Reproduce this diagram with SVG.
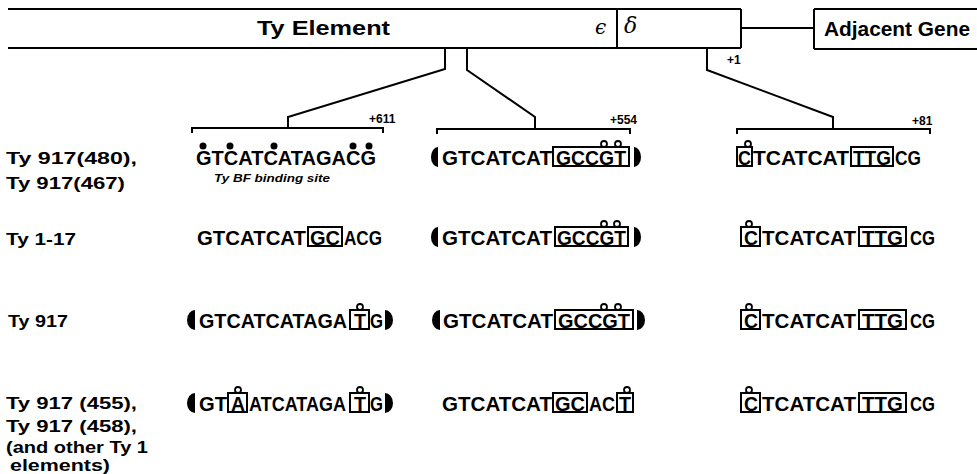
<svg xmlns="http://www.w3.org/2000/svg" width="977" height="474" viewBox="0 0 977 474">
<style>
.ln{stroke:#000;stroke-width:2;fill:none}
.bx{stroke:#000;stroke-width:2;fill:none}
.seq{font-family:"Liberation Sans",Arial,sans-serif;font-weight:bold;font-size:20px;fill:#000}
.lbl{font-family:"Liberation Sans",Arial,sans-serif;font-weight:bold;font-size:17px;fill:#000}
.lbs{font-family:"Liberation Sans",Arial,sans-serif;font-weight:bold;font-size:16px;fill:#000}
.big{font-family:"Liberation Sans",Arial,sans-serif;font-weight:bold;font-size:20px;fill:#000}
.pos{font-family:"Liberation Sans",Arial,sans-serif;font-weight:bold;font-size:12px;fill:#000}
.oc{fill:#fff;stroke:#000;stroke-width:1.8}
.dot{fill:#000}
.disk{fill:#000}
</style>
<rect width="977" height="474" fill="#fff"/>

<g id="ty-element">
  <line class="ln" x1="8" y1="9" x2="741" y2="9"/>
  <line class="ln" x1="8" y1="48" x2="741" y2="48"/>
  <line class="ln" x1="741" y1="9" x2="741" y2="48"/>
  <line class="ln" x1="617" y1="9" x2="617" y2="48"/>
  <text class="big" x="257" y="35" textLength="133" lengthAdjust="spacingAndGlyphs">Ty  Element</text>
  <text x="595" y="34" font-family="DejaVu Serif, serif" font-style="italic" font-size="20">ϵ</text>
  <text x="624" y="33" font-family="DejaVu Serif, serif" font-style="italic" font-size="22">δ</text>
</g>

<g id="adjacent-gene">
  <line class="ln" x1="814" y1="9" x2="977" y2="9"/>
  <line class="ln" x1="814" y1="49" x2="977" y2="49"/>
  <line class="ln" x1="814" y1="9" x2="814" y2="49"/>
  <text class="big" x="824" y="36" textLength="146" lengthAdjust="spacingAndGlyphs">Adjacent Gene</text>
</g>

<g id="connectors">
  <line class="ln" x1="741" y1="28" x2="814" y2="28"/>
  <polyline class="ln" points="445,48 445,69 288,117 288,128"/>
  <polyline class="ln" points="467,48 467,70 535,117 535,129"/>
  <polyline class="ln" points="707,48 707,70 833,117 833,129"/>
  <polyline class="ln" points="192,133 192,128 383,128 383,133"/>
  <polyline class="ln" points="437,134 437,129 630,129 630,134"/>
  <polyline class="ln" points="737,134 737,129 930,129 930,134"/>
  <text class="pos" x="727" y="64">+1</text>
  <text class="pos" x="369" y="123">+611</text>
  <text class="pos" x="610" y="124">+554</text>
  <text class="pos" x="912" y="125">+81</text>
</g>

<g id="labels">
  <text class="lbl" x="6" y="164" textLength="131" lengthAdjust="spacingAndGlyphs">Ty 917(480),</text>
  <text class="lbl" x="6" y="189" textLength="119" lengthAdjust="spacingAndGlyphs">Ty 917(467)</text>
  <text class="lbl" x="6" y="245" textLength="70" lengthAdjust="spacingAndGlyphs">Ty 1-17</text>
  <text class="lbl" x="8" y="327" textLength="60" lengthAdjust="spacingAndGlyphs">Ty 917</text>
  <text class="lbs" x="6" y="409" textLength="131" lengthAdjust="spacingAndGlyphs">Ty 917 (455),</text>
  <text class="lbs" x="6" y="432" textLength="131" lengthAdjust="spacingAndGlyphs">Ty 917 (458),</text>
  <text class="lbs" x="6" y="453" textLength="142" lengthAdjust="spacingAndGlyphs">(and other Ty 1</text>
  <text class="lbs" x="10" y="471" textLength="100" lengthAdjust="spacingAndGlyphs">elements)</text>
</g>

<!-- Row 1 -->
<g id="r1c1">
  <text class="seq" x="196" y="165" textLength="180" lengthAdjust="spacingAndGlyphs">GTCATCATAGACG</text>
  <circle class="dot" cx="203" cy="146" r="3.5"/>
  <circle class="dot" cx="230" cy="146" r="3.5"/>
  <circle class="dot" cx="274" cy="146" r="3.5"/>
  <circle class="dot" cx="353" cy="146" r="3.5"/>
  <circle class="dot" cx="369" cy="146" r="3.5"/>
  <text x="214" y="182" font-family="Liberation Sans, Arial, sans-serif" font-weight="bold" font-style="italic" font-size="11" textLength="116" lengthAdjust="spacingAndGlyphs">Ty BF binding site</text>
</g>
<g id="r1c2">
  <path class="disk" d="M438,147 A7,10 0 0 0 438,167 Z"/>
  <text class="seq" x="442" y="165" textLength="110" lengthAdjust="spacingAndGlyphs">GTCATCAT</text>
  <rect class="bx" x="553" y="147" width="76" height="19"/>
  <text class="seq" x="556" y="165" textLength="70" lengthAdjust="spacingAndGlyphs">GCCGT</text>
  <circle class="oc" cx="604" cy="144" r="3"/>
  <circle class="oc" cx="618" cy="144" r="3"/>
  <path class="disk" d="M634,147 A7,10 0 0 1 634,167 Z"/>
</g>
<g id="r1c3">
  <rect class="bx" x="737" y="147" width="15" height="19"/>
  <text class="seq" x="738" y="165" textLength="13" lengthAdjust="spacingAndGlyphs">C</text>
  <circle class="oc" cx="748" cy="144" r="3"/>
  <text class="seq" x="753" y="165" textLength="96" lengthAdjust="spacingAndGlyphs">TCATCAT</text>
  <rect class="bx" x="851" y="147" width="42" height="19"/>
  <text class="seq" x="853" y="165" textLength="38" lengthAdjust="spacingAndGlyphs">TTG</text>
  <text class="seq" x="895" y="165" textLength="26" lengthAdjust="spacingAndGlyphs">CG</text>
</g>

<!-- Row 2 -->
<g id="r2c1">
  <text class="seq" x="197" y="245" textLength="109" lengthAdjust="spacingAndGlyphs">GTCATCAT</text>
  <rect class="bx" x="308" y="227" width="34" height="19"/>
  <text class="seq" x="310" y="245" textLength="30" lengthAdjust="spacingAndGlyphs">GC</text>
  <text class="seq" x="344" y="245" textLength="38" lengthAdjust="spacingAndGlyphs">ACG</text>
</g>
<g id="r2c2">
  <path class="disk" d="M438,227 A7,10 0 0 0 438,247 Z"/>
  <text class="seq" x="442" y="245" textLength="110" lengthAdjust="spacingAndGlyphs">GTCATCAT</text>
  <rect class="bx" x="555" y="227" width="73" height="19"/>
  <text class="seq" x="557" y="245" textLength="69" lengthAdjust="spacingAndGlyphs">GCCGT</text>
  <circle class="oc" cx="604" cy="224" r="3"/>
  <circle class="oc" cx="617" cy="224" r="3"/>
  <path class="disk" d="M634,227 A7,10 0 0 1 634,247 Z"/>
</g>
<g id="r2c3">
  <rect class="bx" x="741" y="227" width="19" height="19"/>
  <text class="seq" x="744" y="245" textLength="14" lengthAdjust="spacingAndGlyphs">C</text>
  <circle class="oc" cx="749" cy="224" r="3"/>
  <text class="seq" x="762" y="245" textLength="94" lengthAdjust="spacingAndGlyphs">TCATCAT</text>
  <rect class="bx" x="859" y="227" width="47" height="19"/>
  <text class="seq" x="862" y="245" textLength="41" lengthAdjust="spacingAndGlyphs">TTG</text>
  <text class="seq" x="910" y="245" textLength="25" lengthAdjust="spacingAndGlyphs">CG</text>
</g>

<!-- Row 3 -->
<g id="r3c1">
  <path class="disk" d="M195,310 A8,10 0 0 0 195,330 Z"/>
  <text class="seq" x="199" y="328" textLength="148" lengthAdjust="spacingAndGlyphs">GTCATCATAGA</text>
  <rect class="bx" x="350" y="310" width="19" height="19"/>
  <text class="seq" x="354" y="328" textLength="12" lengthAdjust="spacingAndGlyphs">T</text>
  <circle class="oc" cx="360" cy="307" r="3"/>
  <text class="seq" x="370" y="328" textLength="13" lengthAdjust="spacingAndGlyphs">G</text>
  <path class="disk" d="M385,310 A8,10 0 0 1 385,330 Z"/>
</g>
<g id="r3c2">
  <path class="disk" d="M440,310 A8,10 0 0 0 440,330 Z"/>
  <text class="seq" x="443" y="328" textLength="110" lengthAdjust="spacingAndGlyphs">GTCATCAT</text>
  <rect class="bx" x="555" y="310" width="78" height="19"/>
  <text class="seq" x="558" y="328" textLength="72" lengthAdjust="spacingAndGlyphs">GCCGT</text>
  <circle class="oc" cx="604" cy="307" r="3"/>
  <circle class="oc" cx="618" cy="307" r="3"/>
  <path class="disk" d="M637,310 A8,10 0 0 1 637,330 Z"/>
</g>
<g id="r3c3">
  <rect class="bx" x="741" y="310" width="19" height="19"/>
  <text class="seq" x="744" y="328" textLength="14" lengthAdjust="spacingAndGlyphs">C</text>
  <circle class="oc" cx="749" cy="307" r="3"/>
  <text class="seq" x="762" y="328" textLength="94" lengthAdjust="spacingAndGlyphs">TCATCAT</text>
  <rect class="bx" x="859" y="310" width="47" height="19"/>
  <text class="seq" x="862" y="328" textLength="41" lengthAdjust="spacingAndGlyphs">TTG</text>
  <text class="seq" x="910" y="328" textLength="25" lengthAdjust="spacingAndGlyphs">CG</text>
</g>

<!-- Row 4 -->
<g id="r4c1">
  <path class="disk" d="M195,393 A8,10 0 0 0 195,413 Z"/>
  <text class="seq" x="199" y="411" textLength="28" lengthAdjust="spacingAndGlyphs">GT</text>
  <rect class="bx" x="228" y="393" width="19" height="19"/>
  <text class="seq" x="231" y="411" textLength="14" lengthAdjust="spacingAndGlyphs">A</text>
  <circle class="oc" cx="238" cy="390" r="3"/>
  <text class="seq" x="249" y="411" textLength="97" lengthAdjust="spacingAndGlyphs">ATCATAGA</text>
  <rect class="bx" x="350" y="393" width="19" height="19"/>
  <text class="seq" x="354" y="411" textLength="12" lengthAdjust="spacingAndGlyphs">T</text>
  <circle class="oc" cx="360" cy="390" r="3"/>
  <text class="seq" x="370" y="411" textLength="13" lengthAdjust="spacingAndGlyphs">G</text>
  <path class="disk" d="M385,393 A8,10 0 0 1 385,413 Z"/>
</g>
<g id="r4c2">
  <text class="seq" x="442" y="411" textLength="110" lengthAdjust="spacingAndGlyphs">GTCATCAT</text>
  <rect class="bx" x="553" y="393" width="34" height="19"/>
  <text class="seq" x="555" y="411" textLength="30" lengthAdjust="spacingAndGlyphs">GC</text>
  <text class="seq" x="589" y="411" textLength="26" lengthAdjust="spacingAndGlyphs">AC</text>
  <rect class="bx" x="617" y="393" width="16" height="19"/>
  <text class="seq" x="619" y="411" textLength="12" lengthAdjust="spacingAndGlyphs">T</text>
  <circle class="oc" cx="627" cy="390" r="3"/>
</g>
<g id="r4c3">
  <rect class="bx" x="741" y="393" width="19" height="19"/>
  <text class="seq" x="744" y="411" textLength="14" lengthAdjust="spacingAndGlyphs">C</text>
  <circle class="oc" cx="749" cy="390" r="3"/>
  <text class="seq" x="762" y="411" textLength="94" lengthAdjust="spacingAndGlyphs">TCATCAT</text>
  <rect class="bx" x="859" y="393" width="47" height="19"/>
  <text class="seq" x="862" y="411" textLength="41" lengthAdjust="spacingAndGlyphs">TTG</text>
  <text class="seq" x="910" y="411" textLength="25" lengthAdjust="spacingAndGlyphs">CG</text>
</g>
</svg>
